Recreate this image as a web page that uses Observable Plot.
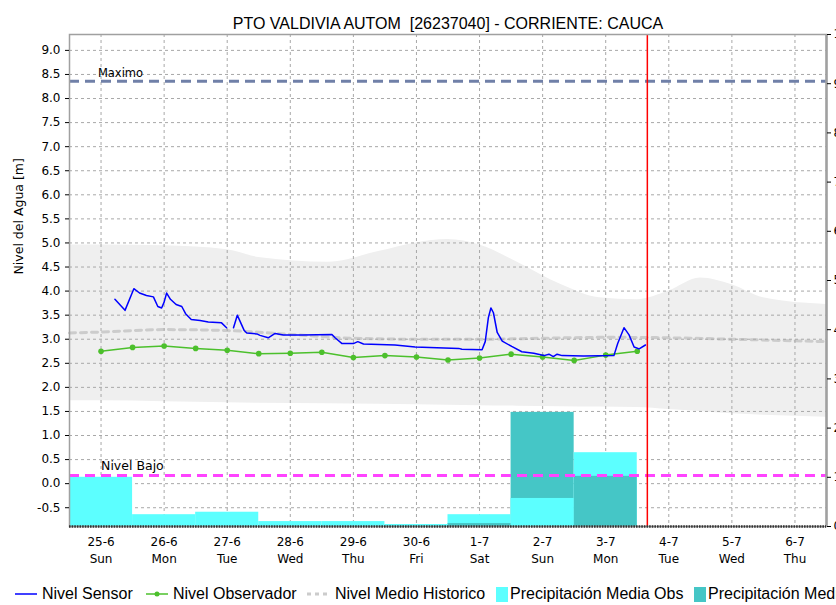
<!DOCTYPE html>
<html><head><meta charset="utf-8">
<script src="https://cdn.jsdelivr.net/npm/d3@7"></script>
<script src="https://cdn.jsdelivr.net/npm/@observablehq/plot@0.6"></script>
<style>
body{margin:0;background:#fff;width:836px;height:605px;overflow:hidden;position:relative;font-family:"Liberation Sans",Arial,sans-serif;}
#chart svg{display:block;}
#legend{position:absolute;left:0;top:584px;width:836px;height:20px;font-size:16px;color:#000;}
#legend .it{position:absolute;top:0;height:20px;line-height:20px;white-space:nowrap;}
#legend svg{position:absolute;top:0;}
</style></head><body><div id="chart"></div><div id="legend"></div>
<script>
const title = "PTO VALDIVIA AUTOM  [26237040] - CORRIENTE: CAUCA";
const yLabel = "Nivel del Agua [m]";
const dayLabels = ["25-6","26-6","27-6","28-6","29-6","30-6","1-7","2-7","3-7","4-7","5-7","6-7"];
const weekdays = ["Sun","Mon","Tue","Wed","Thu","Fri","Sat","Sun","Mon","Tue","Wed","Thu"];
const levelTicks = [-0.5,0,0.5,1,1.5,2,2.5,3,3.5,4,4.5,5,5.5,6,6.5,7,7.5,8,8.5,9];
const precipTicks = [0,1,2,3,4,5,6,7,8,9,10];

// Nivel Sensor (day offset from 25-6, level m); null = gap
const sensorDay = [0.22,0.38,0.52,0.61,0.72,0.83,0.90,0.96,1.00,1.04,1.10,1.19,1.28,1.34,1.43,1.57,1.70,1.91,1.99,2.05,2.10,2.16,2.27,2.31,2.47,2.52,2.65,2.76,2.89,3.20,3.66,3.71,3.82,4.00,4.07,4.16,4.66,4.98,5.67,5.72,6.04,6.09,6.14,6.18,6.22,6.28,6.36,6.51,6.67,6.86,7.02,7.10,7.17,7.23,7.31,7.65,8.13,8.19,8.29,8.37,8.45,8.53,8.63];
const sensorLevel = [3.83,3.60,4.05,3.96,3.91,3.88,3.68,3.65,3.77,3.96,3.83,3.72,3.68,3.53,3.41,3.39,3.36,3.34,3.24,null,3.24,3.50,3.18,3.13,3.11,3.08,3.03,3.12,3.09,3.09,3.10,3.03,2.91,2.91,2.95,2.90,2.88,2.84,2.81,2.79,2.78,2.95,3.45,3.65,3.55,3.14,2.96,2.85,2.74,2.71,2.66,2.69,2.64,2.69,2.66,2.65,2.66,2.91,3.24,3.09,2.84,2.80,2.88];

// Nivel Observador
const observerDay = [0,0.5,1,1.5,2,2.5,3,3.5,4,4.5,5,5.5,6,6.5,7,7.5,8,8.5];
const observerLevel = [2.75,2.83,2.86,2.81,2.77,2.70,2.71,2.73,2.62,2.66,2.63,2.57,2.61,2.69,2.63,2.56,2.67,2.75];

// Historic band and mean
const histDay = [-0.5,0,1,2,2.5,3.6,4.4,5,5.5,6,6.6,7.3,7.9,8.5,9,9.5,10,10.5,11.5];
const histHigh = [4.96,4.96,4.94,4.86,4.70,4.60,4.82,5.00,5.07,4.96,4.60,4.13,3.86,3.82,4.00,4.27,4.13,3.86,3.72];
const histLow = [1.72,1.72,1.70,1.68,1.67,1.66,1.65,1.64,1.63,1.62,1.61,1.60,1.59,1.58,1.54,1.50,1.45,1.42,1.38];
const meanDay = [-0.5,0,1,2,3,4,5,6,7,8,9,10,11.5];
const meanLevel = [3.13,3.15,3.20,3.18,3.10,3.02,3.00,3.00,3.02,3.04,3.03,3.00,2.95];

// Precipitation (right axis units), per day 25-6 .. 3-7
const precipDays = [0,1,2,3,4,5,6,7,8];
const precipObs = [1.00,0.24,0.29,0.10,0.10,0.04,0.24,0.57,1.50];
const precipOther = [0,0,0,0,0,0,0.06,2.32,1.02];

const maximo = 8.36, nivelBajo = 0.17, nowDay = 8.66;
const yDomain = [-0.89, 9.33];
const precipMax = 10;
const toLeft = v => yDomain[0] + v * (yDomain[1] - yDomain[0]) / precipMax;
const fromLeft = y => (y - yDomain[0]) * precipMax / (yDomain[1] - yDomain[0]);

const cObs = "#5cffff", cOther = "#45c6c6";
const sensor = sensorDay.map((d,i)=>({day:d, level:sensorLevel[i]}));
const observer = observerDay.map((d,i)=>({day:d, level:observerLevel[i]}));
const hist = histDay.map((d,i)=>({day:d, hi:histHigh[i], lo:histLow[i]}));
const mean = meanDay.map((d,i)=>({day:d, level:meanLevel[i]}));
const bars = [];
precipDays.forEach((d,i)=>{
  if (precipObs[i] > 0) bars.push({day:d, value:precipObs[i], fill:cObs});
  if (precipOther[i] > 0) bars.push({day:d, value:precipOther[i], fill:cOther});
});
bars.sort((a,b)=>b.value-a.value);
const dayIdx = dayLabels.map((_,i)=>i);

const chart = Plot.plot({
  width: 836, height: 578,
  marginLeft: 69, marginRight: 10, marginTop: 34, marginBottom: 52,
  style: {fontFamily: "DejaVu Sans, sans-serif", fontSize: "12px", background: "white", color: "#000"},
  x: {domain: [-0.5, 11.5], axis: null},
  y: {domain: yDomain, axis: null},
  marks: [
    Plot.areaY(hist, {x: "day", y1: "lo", y2: "hi", fill: "#efefef", curve: "monotone-x"}),
    Plot.line(mean, {x: "day", y: "level", stroke: "#cccccc", strokeWidth: 3, strokeDasharray: "6,5", curve: "monotone-x"}),
    Plot.ruleY(levelTicks, {stroke: "#a8a8a8", strokeDasharray: "3,3", strokeWidth: 1}),
    Plot.ruleX(dayIdx, {stroke: "#a8a8a8", strokeDasharray: "3,3", strokeWidth: 1}),
    Plot.rect(bars, {x1: d => d.day - 0.5, x2: d => d.day + 0.5, y1: () => yDomain[0], y2: d => toLeft(d.value), fill: d => d.fill}),
    Plot.ruleY([maximo], {stroke: "#7080a8", strokeWidth: 3, strokeDasharray: "10,6"}),
    Plot.ruleY([nivelBajo], {stroke: "#ff44ff", strokeWidth: 3, strokeDasharray: "10,6"}),
    Plot.text(["Maximo"], {x: -0.05, y: maximo, dy: -8, textAnchor: "start", fontSize: 11.5}),
    Plot.text(["Nivel Bajo"], {x: 0.0, y: nivelBajo, dy: -9, textAnchor: "start", fontSize: 12.5}),
    Plot.line(observer, {x: "day", y: "level", stroke: "#4cc02c", strokeWidth: 1.5}),
    Plot.dot(observer, {x: "day", y: "level", fill: "#4cc02c", r: 2.8}),
    Plot.line(sensor, {x: "day", y: "level", stroke: "#0000ff", strokeWidth: 1.5}),
    Plot.ruleX([nowDay], {stroke: "#ff0000", strokeWidth: 1.5}),
    Plot.frame({stroke: "#a0a0a0", strokeWidth: 1.5}),
    Plot.ruleX([11.5], {stroke: "#a0a0a0", strokeWidth: 2.5}),
    Plot.ruleY([yDomain[0]], {stroke: "#333", strokeWidth: 2.5, strokeDasharray: "1.6,1.025"}),
    Plot.axisY({ticks: levelTicks, tickFormat: d => d.toFixed(1), tickSize: 4, tickPadding: 5, label: null, fontSize: 12}),
    Plot.axisY({anchor: "right", ticks: precipTicks.map(toLeft), tickFormat: d => String(Math.round(fromLeft(d))), tickSize: 4, tickPadding: 3, label: null, fontSize: 12}),
    Plot.text(dayIdx, {x: d => d, frameAnchor: "bottom", dy: 19, text: i => dayLabels[i], fontSize: 12}),
    Plot.text(dayIdx, {x: d => d, frameAnchor: "bottom", dy: 36, text: i => weekdays[i], fontSize: 12}),
    Plot.text([title], {frameAnchor: "top", dy: -17, fontSize: 16, fontFamily: "Liberation Sans, Arial, sans-serif"}),
    Plot.text([yLabel], {frameAnchor: "left", dx: -51, dy: -6, rotate: -90, fontSize: 12.5})
  ]
});
document.getElementById("chart").appendChild(chart);

// Legend
const legendItems = [
  {label: "Nivel Sensor", kind: "line", color: "#0000ff", sx: 15, tx: 42},
  {label: "Nivel Observador", kind: "dotline", color: "#4cc02c", sx: 146, tx: 173},
  {label: "Nivel Medio Historico", kind: "dash", color: "#cccccc", sx: 307, tx: 335},
  {label: "Precipitación Media Obs", kind: "box", color: cObs, sx: 496, tx: 510},
  {label: "Precipitación Media Pronosticada", kind: "box", color: cOther, sx: 694, tx: 708}
];
const leg = document.getElementById("legend");
legendItems.forEach(it => {
  const ns = "http://www.w3.org/2000/svg";
  const s = document.createElementNS(ns, "svg");
  s.setAttribute("width", 24); s.setAttribute("height", 20);
  s.style.left = it.sx + "px";
  if (it.kind === "box") {
    const r = document.createElementNS(ns, "rect");
    r.setAttribute("x", 0); r.setAttribute("y", 3); r.setAttribute("width", 12); r.setAttribute("height", 15);
    r.setAttribute("fill", it.color); s.appendChild(r);
  } else {
    const l = document.createElementNS(ns, "line");
    l.setAttribute("x1", 0); l.setAttribute("x2", 22); l.setAttribute("y1", 10); l.setAttribute("y2", 10);
    l.setAttribute("stroke", it.color);
    l.setAttribute("stroke-width", it.kind === "dash" ? 3 : 1.5);
    if (it.kind === "dash") l.setAttribute("stroke-dasharray", "4,4");
    s.appendChild(l);
    if (it.kind === "dotline") {
      const c = document.createElementNS(ns, "circle");
      c.setAttribute("cx", 11); c.setAttribute("cy", 10); c.setAttribute("r", 2.5); c.setAttribute("fill", it.color);
      s.appendChild(c);
    }
  }
  leg.appendChild(s);
  const t = document.createElement("span");
  t.className = "it"; t.style.left = it.tx + "px"; t.textContent = it.label;
  leg.appendChild(t);
});
</script></body></html>
